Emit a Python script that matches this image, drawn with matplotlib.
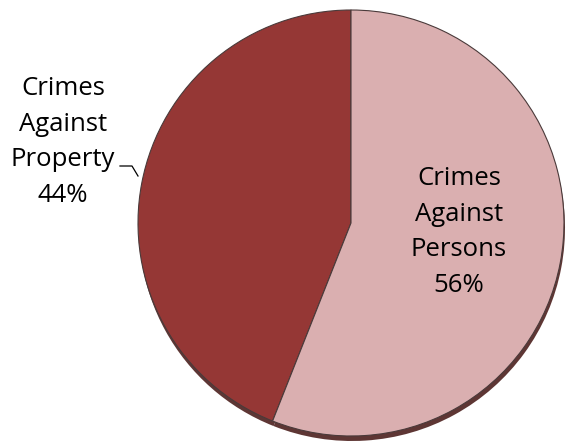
import matplotlib
matplotlib.use("Agg")
import matplotlib.pyplot as plt

categories = ["Crimes\nAgainst\nProperty", "Crimes\nAgainst\nPersons"]
values = [44, 56]
colors = ["#953735", "#DAAFB0"]

W, H = 569, 441
fig = plt.figure(figsize=(W / 100, H / 100), dpi=100)
ax = fig.add_axes([0, 0, 1, 1])

cx, cy, r = 351, 223, 213

# shadow
ax.pie(values, colors=["#5e3634", "#5e3634"], startangle=-90, counterclock=False,
       center=(cx + 1, cy + 5), radius=r, frame=True,
       wedgeprops=dict(linewidth=0))
ax.pie(values, colors=colors, startangle=-90, counterclock=False,
       center=(cx, cy), radius=r, frame=True,
       wedgeprops=dict(linewidth=0.8, edgecolor="#4a3a3a"))
ax.set_xlim(0, W)
ax.set_ylim(H, 0)
ax.axis("off")

font = dict(family=["Open Sans", "DejaVu Sans"], fontsize=18.5, color="black",
            ha="center", va="center", linespacing=1.55)
ax.text(63, 142, f"{categories[0]}\n{values[0]}%", **font)
ax.text(459, 232, f"{categories[1]}\n{values[1]}%", **font)
ax.plot([120, 132, 138], [166, 166, 176], color="black", linewidth=0.9)

fig.savefig("out.png", dpi=100)
